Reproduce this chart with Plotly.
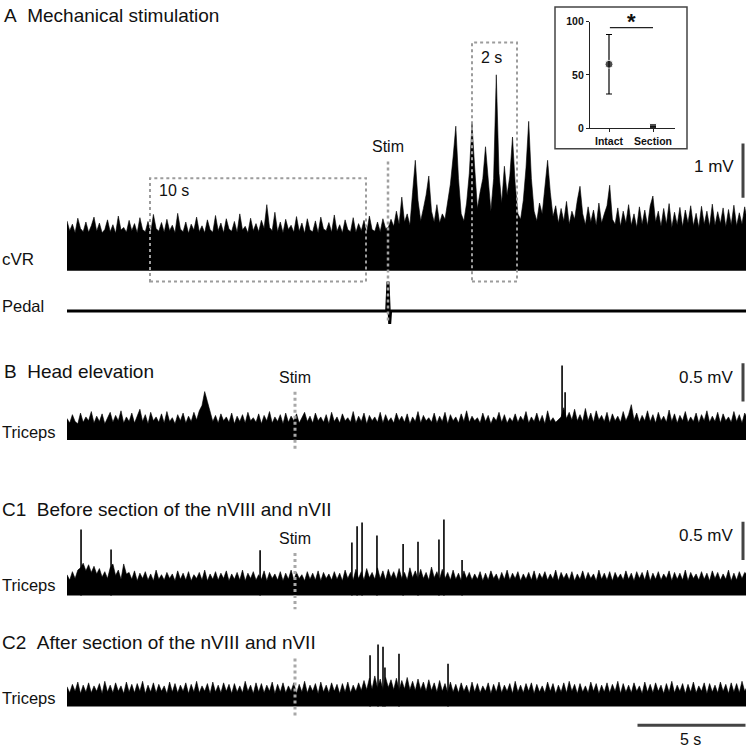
import plotly.graph_objects as go

# page geometry (pixels)
W, H = 748, 751
PX_PER_S = 21.6          # 5 s scale bar = 108 px
X0_PX, X1_PX = 67, 746
DT = 0.125               # sampling step of the traced envelopes (s)

# ---- A: cVR envelope (mV), one value every 0.125 s ----
cvr_mv = [0.92, 0.74, 0.86, 0.70, 0.97, 0.78, 0.72, 0.90, 0.71, 0.83, 0.99, 0.73,
          0.88, 0.70, 0.76, 0.94, 0.72, 0.85, 0.69, 1.01, 0.75, 0.80, 0.71, 0.93,
          0.74, 0.87, 0.70, 0.98, 0.76, 0.72, 0.91, 0.70, 1.04, 0.78, 0.73, 0.89,
          0.71, 0.95, 0.74, 0.84, 0.70, 1.06, 0.77, 0.72, 0.90, 0.69, 0.86, 0.75,
          0.99, 0.72, 0.83, 0.70, 0.94, 0.76, 0.71, 1.02, 0.74, 0.88, 0.70, 0.96,
          0.77, 0.73, 0.91, 0.71, 1.05, 0.75, 0.82, 0.70, 0.97, 0.74, 0.87, 0.72,
          0.93, 0.78, 1.22, 0.80, 0.74, 1.08, 0.72, 0.90, 0.70, 0.95, 0.76, 0.84,
          0.71, 1.00, 0.73, 0.88, 0.69, 0.96, 0.75, 0.72, 0.92, 0.70, 0.99, 0.77,
          0.74, 0.89, 0.71, 1.03, 0.73, 0.85, 0.70, 0.94, 0.76, 0.72, 0.98, 0.71,
          0.87, 0.74, 0.93, 0.70, 1.01, 0.76, 0.73, 0.90, 0.72, 0.96, 0.78, 0.80,
          0.95, 0.82, 1.10, 0.86, 1.36, 0.90, 1.05, 0.84, 1.45, 2.04, 1.30, 0.92,
          1.15, 1.40, 1.75, 1.10, 0.90, 1.22, 0.88, 1.05, 0.95, 1.30, 1.60, 2.10,
          2.67, 1.70, 1.05, 0.92, 1.25, 1.80, 2.71, 1.90, 1.15, 1.45, 1.70, 2.29,
          1.60, 1.10, 1.70, 3.62, 1.80, 1.25, 1.93, 1.40, 1.75, 2.47, 1.60, 1.05,
          0.95, 1.30, 1.90, 2.76, 1.70, 1.10, 0.92, 1.25, 1.05, 1.50, 2.04, 1.45,
          1.00, 1.20, 0.88, 1.15, 0.92, 1.28, 0.86, 1.10, 0.95, 1.30, 1.56, 1.05,
          0.85, 1.18, 0.90, 1.12, 0.84, 1.25, 0.88, 1.05, 1.20, 1.58, 0.95, 0.86,
          1.16, 0.82, 1.10, 0.88, 1.22, 0.84, 1.05, 0.80, 1.18, 0.86, 1.12, 0.83,
          1.20, 1.38, 0.90, 1.10, 0.82, 1.15, 0.86, 1.24, 0.80, 1.08, 0.85, 1.17,
          0.81, 1.12, 0.88, 1.20, 0.83, 1.06, 0.80, 1.19, 0.86, 1.10, 0.82, 1.23,
          0.84, 1.09, 0.87, 1.16, 0.81, 1.13, 0.85, 1.21, 0.83, 1.07, 0.86, 1.18,
          0.90]

# pedal monitor (a.u.)
pedal_t = [0, 14.80, 14.86, 14.90, 14.94, 14.98, 31.5]
pedal_au = [0, 0, 30, 0, -13, 0, 0]

# ---- B: head elevation, triceps envelope (mV) ----
b_tri_mv = [0.28, 0.22, 0.33, 0.24, 0.21, 0.35, 0.23, 0.30, 0.25, 0.37, 0.22, 0.31,
            0.24, 0.34, 0.21, 0.29, 0.36, 0.23, 0.32, 0.25, 0.38, 0.22, 0.30, 0.24,
            0.35, 0.22, 0.31, 0.40, 0.24, 0.33, 0.21, 0.36, 0.25, 0.30, 0.23, 0.34,
            0.22, 0.37, 0.24, 0.29, 0.21, 0.33, 0.25, 0.35, 0.22, 0.31, 0.24, 0.36,
            0.26, 0.38, 0.45, 0.63, 0.50, 0.35, 0.24, 0.32, 0.22, 0.34, 0.25, 0.30,
            0.23, 0.35, 0.21, 0.31, 0.24, 0.33, 0.22, 0.36, 0.25, 0.29, 0.23, 0.34,
            0.21, 0.32, 0.25, 0.37, 0.22, 0.30, 0.24, 0.33, 0.21, 0.35, 0.23, 0.31,
            0.25, 0.34, 0.22, 0.29, 0.36, 0.24, 0.31, 0.22, 0.35, 0.25, 0.30, 0.23,
            0.33, 0.21, 0.36, 0.24, 0.30, 0.22, 0.34, 0.25, 0.29, 0.23, 0.37, 0.22,
            0.31, 0.24, 0.35, 0.21, 0.32, 0.25, 0.30, 0.23, 0.36, 0.22, 0.33, 0.24,
            0.29, 0.22, 0.35, 0.25, 0.31, 0.23, 0.34, 0.21, 0.30, 0.24, 0.37, 0.22,
            0.32, 0.25, 0.29, 0.23, 0.35, 0.22, 0.31, 0.24, 0.36, 0.21, 0.33, 0.25,
            0.30, 0.22, 0.34, 0.24, 0.38, 0.23, 0.31, 0.25, 0.29, 0.22, 0.35, 0.24,
            0.32, 0.21, 0.30, 0.25, 0.36, 0.23, 0.33, 0.22, 0.29, 0.24, 0.34, 0.23,
            0.31, 0.25, 0.37, 0.22, 0.30, 0.24, 0.35, 0.23, 0.32, 0.21, 0.38, 0.24,
            0.29, 0.23, 0.27, 0.30, 0.42, 0.28, 0.36, 0.26, 0.40, 0.25, 0.33, 0.24,
            0.41, 0.25, 0.35, 0.23, 0.38, 0.26, 0.32, 0.24, 0.36, 0.22, 0.34, 0.25,
            0.31, 0.23, 0.37, 0.25, 0.33, 0.46, 0.26, 0.35, 0.23, 0.32, 0.25, 0.38,
            0.24, 0.33, 0.22, 0.36, 0.25, 0.31, 0.23, 0.39, 0.24, 0.34, 0.22, 0.32,
            0.25, 0.37, 0.23, 0.30, 0.24, 0.35, 0.22, 0.33, 0.25, 0.38, 0.23, 0.31,
            0.24, 0.36, 0.22, 0.34, 0.25, 0.30, 0.23, 0.37, 0.24, 0.33, 0.22, 0.35,
            0.28]
b_spike_t = [22.92, 23.06]
b_spike_mv = [0.97, 0.62]

# ---- C1: before section ----
c1_tri_mv = [0.27, 0.20, 0.31, 0.22, 0.33, 0.36, 0.42, 0.32, 0.40, 0.30, 0.38, 0.28,
             0.35, 0.24, 0.31, 0.22, 0.36, 0.41, 0.26, 0.33, 0.21, 0.41, 0.28, 0.30,
             0.21, 0.32, 0.19, 0.29, 0.22, 0.31, 0.20, 0.28, 0.19, 0.33, 0.21, 0.27,
             0.20, 0.30, 0.22, 0.28, 0.19, 0.32, 0.21, 0.29, 0.20, 0.31, 0.19, 0.27,
             0.22, 0.30, 0.20, 0.33, 0.19, 0.28, 0.21, 0.31, 0.20, 0.29, 0.22, 0.32,
             0.19, 0.28, 0.21, 0.30, 0.20, 0.33, 0.19, 0.29, 0.22, 0.31, 0.20, 0.27,
             0.21, 0.32, 0.19, 0.30, 0.22, 0.28, 0.20, 0.31, 0.19, 0.29, 0.21, 0.33,
             0.20, 0.30, 0.22, 0.27, 0.19, 0.31, 0.21, 0.29, 0.20, 0.32, 0.19, 0.30,
             0.22, 0.28, 0.20, 0.31, 0.21, 0.29, 0.19, 0.33, 0.22, 0.30, 0.20, 0.34,
             0.22, 0.31, 0.20, 0.35, 0.23, 0.30, 0.21, 0.36, 0.22, 0.32, 0.20, 0.34,
             0.23, 0.31, 0.21, 0.35, 0.22, 0.30, 0.20, 0.36, 0.23, 0.32, 0.21, 0.34,
             0.22, 0.30, 0.20, 0.37, 0.23, 0.31, 0.21, 0.34, 0.22, 0.30, 0.20, 0.33,
             0.21, 0.29, 0.19, 0.32, 0.22, 0.30, 0.20, 0.28, 0.21, 0.31, 0.19, 0.29,
             0.20, 0.32, 0.22, 0.28, 0.19, 0.30, 0.21, 0.33, 0.20, 0.29, 0.22, 0.31,
             0.19, 0.28, 0.21, 0.30, 0.20, 0.32, 0.19, 0.29, 0.22, 0.31, 0.20, 0.28,
             0.21, 0.33, 0.19, 0.30, 0.22, 0.29, 0.20, 0.31, 0.19, 0.28, 0.21, 0.32,
             0.20, 0.30, 0.22, 0.28, 0.19, 0.33, 0.21, 0.29, 0.20, 0.31, 0.19, 0.30,
             0.22, 0.28, 0.20, 0.32, 0.21, 0.29, 0.19, 0.31, 0.22, 0.30, 0.20, 0.33,
             0.19, 0.29, 0.21, 0.31, 0.20, 0.28, 0.22, 0.32, 0.19, 0.30, 0.21, 0.29,
             0.20, 0.33, 0.19, 0.30, 0.22, 0.28, 0.20, 0.31, 0.21, 0.29, 0.19, 0.32,
             0.22, 0.30, 0.20, 0.28, 0.21, 0.33, 0.19, 0.29, 0.20, 0.31, 0.22, 0.30,
             0.27]
c1_spike_t = [0.65, 2.04, 8.94, 13.19, 13.43, 13.66, 14.35, 15.56, 16.25, 17.22, 17.45, 18.29]
c1_spike_mv = [0.86, 0.60, 0.59, 0.69, 0.90, 0.95, 0.78, 0.67, 0.70, 0.73, 0.99, 0.46]

# ---- C2: after section ----
c2_tri_mv = [0.26, 0.18, 0.29, 0.20, 0.32, 0.17, 0.28, 0.19, 0.31, 0.18, 0.27, 0.20,
             0.30, 0.17, 0.33, 0.19, 0.28, 0.18, 0.31, 0.20, 0.27, 0.17, 0.32, 0.19,
             0.29, 0.18, 0.30, 0.20, 0.33, 0.17, 0.28, 0.19, 0.31, 0.18, 0.29, 0.20,
             0.27, 0.17, 0.32, 0.19, 0.30, 0.18, 0.28, 0.20, 0.31, 0.17, 0.29, 0.19,
             0.33, 0.18, 0.27, 0.20, 0.30, 0.17, 0.32, 0.19, 0.28, 0.18, 0.31, 0.20,
             0.29, 0.17, 0.30, 0.19, 0.27, 0.18, 0.33, 0.20, 0.28, 0.17, 0.31, 0.19,
             0.30, 0.18, 0.28, 0.20, 0.32, 0.17, 0.29, 0.19, 0.31, 0.18, 0.27, 0.20,
             0.31, 0.17, 0.29, 0.19, 0.33, 0.18, 0.28, 0.20, 0.30, 0.17, 0.32, 0.19,
             0.28, 0.18, 0.31, 0.20, 0.29, 0.17, 0.30, 0.19, 0.32, 0.18, 0.28, 0.20,
             0.31, 0.21, 0.34, 0.22, 0.37, 0.23, 0.40, 0.24, 0.36, 0.22, 0.38, 0.25,
             0.35, 0.22, 0.37, 0.21, 0.34, 0.23, 0.38, 0.22, 0.33, 0.21, 0.36, 0.22,
             0.32, 0.20, 0.35, 0.21, 0.31, 0.19, 0.34, 0.20, 0.30, 0.18, 0.32, 0.19,
             0.29, 0.18, 0.31, 0.20, 0.28, 0.17, 0.32, 0.19, 0.30, 0.18, 0.27, 0.20,
             0.31, 0.17, 0.29, 0.19, 0.32, 0.18, 0.28, 0.20, 0.30, 0.17, 0.33, 0.19,
             0.28, 0.18, 0.30, 0.20, 0.31, 0.17, 0.29, 0.19, 0.27, 0.18, 0.32, 0.20,
             0.30, 0.17, 0.28, 0.19, 0.31, 0.18, 0.33, 0.20, 0.29, 0.17, 0.30, 0.19,
             0.27, 0.18, 0.32, 0.20, 0.30, 0.17, 0.28, 0.19, 0.31, 0.18, 0.29, 0.20,
             0.33, 0.17, 0.30, 0.19, 0.28, 0.18, 0.31, 0.20, 0.27, 0.17, 0.32, 0.19,
             0.29, 0.18, 0.31, 0.20, 0.28, 0.17, 0.30, 0.19, 0.33, 0.18, 0.28, 0.20,
             0.30, 0.17, 0.29, 0.19, 0.32, 0.18, 0.27, 0.20, 0.31, 0.17, 0.30, 0.19,
             0.28, 0.18, 0.32, 0.20, 0.29, 0.17, 0.31, 0.19, 0.30, 0.18, 0.33, 0.20,
             0.27]
c2_spike_t = [14.03, 14.40, 14.63, 14.72, 15.37, 17.64]
c2_spike_mv = [0.67, 0.81, 0.78, 0.51, 0.69, 0.56]

# ---- inset: summary ----
inset_groups = ['Intact', 'Section']
inset_mean = [60, 1]
inset_err = [28, 0]

FONT = 'Arial, Liberation Sans, sans-serif'


def fx(px):
    return px / W


def fy(py):
    return 1 - py / H


def t_of(px):
    return (px - X0_PX) / PX_PER_S


def times(n):
    return [i * DT for i in range(n)]


def spikes(ts, hs):
    xs, ys = [], []
    for t, h in zip(ts, hs):
        xs += [t, t, None]
        ys += [0, h, None]
    return xs, ys


fig = go.Figure()

# (axis, top px, bottom px, zero px, px per unit)
panels = [('y', 60, 275, 269, 55), ('y2', 270, 330, 310, 1),
          ('y3', 355, 450, 441, 78), ('y4', 515, 605, 599, 78),
          ('y5', 640, 720, 712, 78)]

for name, vals in [('y', cvr_mv), ('y3', b_tri_mv), ('y4', c1_tri_mv), ('y5', c2_tri_mv)]:
    fig.add_trace(go.Scatter(x=times(len(vals)), y=vals, yaxis=name, mode='lines',
                             line=dict(color='black', width=0.6), fill='tozeroy',
                             fillcolor='black', hoverinfo='skip'))

for name, ts, hs in [('y3', b_spike_t, b_spike_mv), ('y4', c1_spike_t, c1_spike_mv),
                     ('y5', c2_spike_t, c2_spike_mv)]:
    sx, sy = spikes(ts, hs)
    fig.add_trace(go.Scatter(x=sx, y=sy, yaxis=name, mode='lines',
                             line=dict(color='black', width=1.6), hoverinfo='skip'))

fig.add_trace(go.Scatter(x=pedal_t, y=pedal_au, yaxis='y2', mode='lines',
                         line=dict(color='black', width=3), hoverinfo='skip'))

# inset
fig.add_trace(go.Scatter(x=[1, 2], y=inset_mean, xaxis='x2', yaxis='y6', mode='markers',
                         marker=dict(color='black', size=[8, 7], symbol=['circle', 'square']),
                         error_y=dict(type='data', array=inset_err, color='black',
                                      thickness=1.2, width=3),
                         hoverinfo='skip'))

layout = dict(
    width=W, height=H, margin=dict(l=0, r=0, t=0, b=0),
    paper_bgcolor='white', plot_bgcolor='rgba(0,0,0,0)', showlegend=False,
    font=dict(family=FONT, color='black'),
    xaxis=dict(domain=[fx(X0_PX), fx(X1_PX)], range=[0, (X1_PX - X0_PX) / PX_PER_S],
               visible=False, anchor='y'),
    xaxis2=dict(domain=[fx(590), fx(675)], range=[1 - 19 / 44, 2 + 22 / 44], anchor='y6',
                showline=True, linecolor='#222', linewidth=1.2, ticks='outside', ticklen=3,
                tickcolor='#222', tickvals=[1, 2], ticktext=inset_groups, showgrid=False,
                zeroline=False, tickfont=dict(size=10.5, weight=700, color='#111')),
    yaxis6=dict(domain=[fy(124), fy(16)], range=[0, 100], anchor='x2',
                showline=True, linecolor='#222', linewidth=1.2, ticks='outside', ticklen=3,
                tickcolor='#222', tickvals=[0, 50, 100], showgrid=False, zeroline=False,
                tickfont=dict(size=10.5, weight=700, color='#111')),
)
for name, top, bot, zero, ppu in panels:
    key = 'yaxis' if name == 'y' else 'yaxis' + name[1:]
    layout[key] = dict(domain=[fy(bot), fy(top)], range=[-(bot - zero) / ppu, (zero - top) / ppu],
                       visible=False, anchor='x')
fig.update_layout(**layout)

shapes = []
dot_grey = dict(color='#9c9c9c', width=2, dash='dot')
# stimulus markers
shapes.append(dict(type='line', xref='x', yref='paper', x0=t_of(388), x1=t_of(388),
                   y0=fy(158), y1=fy(322), line=dict(color='#a0a0a0', width=2.5, dash='dot')))
for y0, y1 in [(392, 450), (556, 613), (663, 722)]:
    shapes.append(dict(type='line', xref='x', yref='paper', x0=t_of(295), x1=t_of(295),
                       y0=fy(y0), y1=fy(y1), line=dict(color='#a8a8a8', width=3, dash='dot')))
# expanded-window boxes
shapes.append(dict(type='rect', xref='x', yref='paper', x0=t_of(150), x1=t_of(366),
                   y0=fy(280), y1=fy(175), line=dot_grey))
shapes.append(dict(type='rect', xref='x', yref='paper', x0=t_of(472), x1=t_of(517),
                   y0=fy(280), y1=fy(37), line=dot_grey))
# scale bars
bar = dict(color='#444', width=3)
shapes.append(dict(type='line', xref='x', yref='y', x0=t_of(743), x1=t_of(743),
                   y0=1.35, y1=2.35, line=bar))
shapes.append(dict(type='line', xref='x', yref='y3', x0=t_of(743), x1=t_of(743),
                   y0=0.5, y1=1.0, line=bar))
shapes.append(dict(type='line', xref='x', yref='y4', x0=t_of(743), x1=t_of(743),
                   y0=0.46, y1=0.96, line=bar))
shapes.append(dict(type='line', xref='x', yref='paper', x0=t_of(637.5), x1=t_of(637.5) + 5,
                   y0=fy(731), y1=fy(731), line=bar))
# inset frame and significance bar
shapes.append(dict(type='rect', xref='paper', yref='paper', x0=fx(555), x1=fx(687),
                   y0=fy(145), y1=fy(1), line=dict(color='#444', width=1.5)))
shapes.append(dict(type='line', xref='x2', yref='y6', x0=1.02, x1=2.0, y0=94.5, y1=94.5,
                   line=dict(color='#222', width=1.2)))
fig.update_layout(shapes=shapes)

texts = [
    ('A\u00a0\u00a0Mechanical stimulation', 2, 10, 'left', 19),
    ('cVR', 0, 258, 'left', 17),
    ('Pedal', 0, 305, 'left', 16.5),
    ('Stim', 388, 143, 'center', 16),
    ('10 s', 157, 188, 'left', 16),
    ('2 s', 479, 52, 'left', 16),
    ('1 mV', 736, 163, 'right', 17),
    ('B\u00a0\u00a0Head elevation', 2, 371, 'left', 19),
    ('Stim', 295, 378, 'center', 16),
    ('Triceps', 0, 433, 'left', 16.5),
    ('0.5 mV', 736, 378, 'right', 17),
    ('C1\u00a0\u00a0Before section of the nVIII and nVII', 0, 512, 'left', 19),
    ('Stim', 295, 541, 'center', 16),
    ('Triceps', 0, 588, 'left', 16.5),
    ('0.5 mV', 736, 538, 'right', 17),
    ('C2\u00a0\u00a0After section of the nVIII and nVII', 0, 647, 'left', 19),
    ('Triceps', 0, 703, 'left', 16.5),
    ('5 s', 690, 745, 'center', 16),
    ('<b>*</b>', 631, 16, 'center', 22),
]
for txt, x, y, anchor, size in texts:
    fig.add_annotation(text=txt, xref='paper', yref='paper', x=fx(x), y=fy(y),
                       xanchor=anchor, yanchor='middle', showarrow=False,
                       font=dict(size=size, family=FONT, color='#111'))

# drop the page's default body margin so the figure sits at the window origin
fig.write_html("out.html", config={'displayModeBar': False},
               post_script="document.body.style.margin='0';document.body.style.overflow='hidden';")
